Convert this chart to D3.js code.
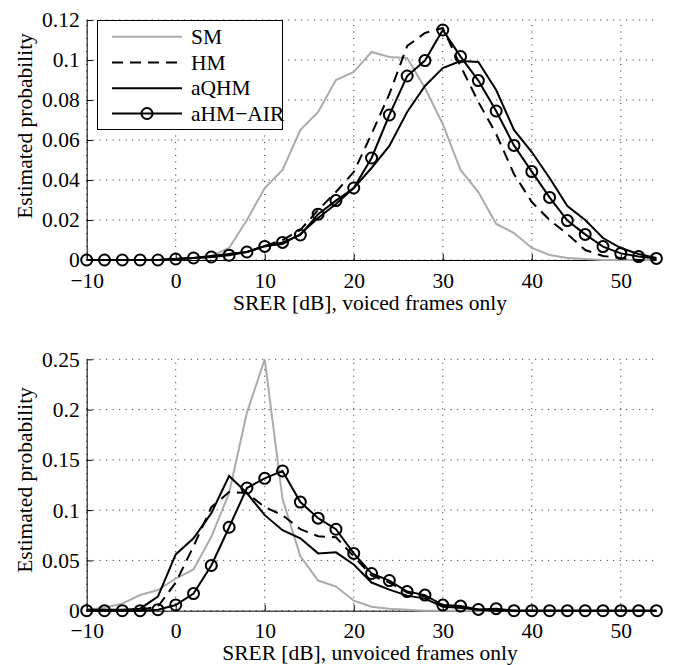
<!DOCTYPE html>
<html>
<head>
<meta charset="utf-8">
<script src="https://cdn.jsdelivr.net/npm/d3@7"></script>
<style>
  body { margin: 0; background: #fff; }
  svg text { font-family: "Liberation Serif", "Times New Roman", serif; fill: #000; }
</style>
</head>
<body>
<div id="chart"></div>
<script>
// SRER bins (dB)
const srer = [-10, -8, -6, -4, -2, 0, 2, 4, 6, 8, 10, 12, 14, 16, 18, 20, 22, 24, 26, 28, 30, 32, 34, 36, 38, 40, 42, 44, 46, 48, 50, 52, 54];

const seriesNames = ["SM", "HM", "aQHM", "aHM\u2212AIR"];

// voiced frames
const voicedSM = [0, 0, 0, 0, 0, 0.0005, 0.001, 0.002, 0.006, 0.020, 0.036, 0.045, 0.065, 0.074, 0.090, 0.094, 0.104, 0.1015, 0.101, 0.086, 0.068, 0.045, 0.034, 0.018, 0.0135, 0.006, 0.0025, 0.001, 0.0005, 0, 0, 0, 0];
const voicedHM = [0, 0, 0, 0, 0, 0.0005, 0.001, 0.0015, 0.003, 0.004, 0.007, 0.010, 0.015, 0.025, 0.034, 0.044, 0.063, 0.083, 0.107, 0.1135, 0.116, 0.097, 0.079, 0.063, 0.043, 0.029, 0.020, 0.013, 0.005, 0.002, 0.001, 0, 0];
const voicedAQHM = [0, 0, 0, 0, 0, 0.0005, 0.001, 0.002, 0.003, 0.004, 0.007, 0.008, 0.013, 0.021, 0.028, 0.036, 0.046, 0.057, 0.074, 0.087, 0.096, 0.0995, 0.099, 0.085, 0.065, 0.054, 0.041, 0.027, 0.020, 0.011, 0.006, 0.003, 0.001];
const voicedAIR = [0, 0, 0, 0, 0, 0.0005, 0.001, 0.0015, 0.0024, 0.004, 0.0068, 0.0088, 0.0125, 0.0229, 0.0297, 0.036, 0.051, 0.0725, 0.092, 0.0997, 0.115, 0.1017, 0.0897, 0.0745, 0.0573, 0.0442, 0.0313, 0.0197, 0.0128, 0.0067, 0.0033, 0.0017, 0.0008];

// unvoiced frames
const unvoicedSM = [0.001, 0.003, 0.007, 0.0156, 0.0205, 0.032, 0.041, 0.0735, 0.117, 0.197, 0.25, 0.111, 0.054, 0.030, 0.024, 0.010, 0.004, 0.002, 0.001, 0, 0, 0, 0, 0, 0, 0, 0, 0, 0, 0, 0, 0, 0];
const unvoicedHM = [0, 0, 0, 0.001, 0.004, 0.028, 0.064, 0.103, 0.118, 0.117, 0.103, 0.095, 0.081, 0.074, 0.073, 0.054, 0.035, 0.028, 0.018, 0.014, 0.005, 0.003, 0.001, 0, 0, 0, 0, 0, 0, 0, 0, 0, 0];
const unvoicedAQHM = [0.001, 0.001, 0.001, 0.002, 0.014, 0.056, 0.072, 0.097, 0.134, 0.117, 0.095, 0.080, 0.072, 0.057, 0.058, 0.046, 0.028, 0.021, 0.015, 0.012, 0.004, 0.003, 0.001, 0, 0, 0, 0, 0, 0, 0, 0, 0, 0];
const unvoicedAIR = [0, 0, 0, 0, 0.001, 0.0057, 0.017, 0.045, 0.083, 0.122, 0.1316, 0.139, 0.108, 0.092, 0.081, 0.057, 0.037, 0.030, 0.019, 0.0155, 0.0056, 0.0046, 0.0013, 0.002, 0, 0, 0, 0, 0, 0, 0, 0, 0];

// ticks
const xTicks = [-10, 0, 10, 20, 30, 40, 50];
const xTickLabels = ["\u221210", "0", "10", "20", "30", "40", "50"];
const voicedYTicks = [0, 0.02, 0.04, 0.06, 0.08, 0.1, 0.12];
const voicedYLabels = ["0", "0.02", "0.04", "0.06", "0.08", "0.1", "0.12"];
const unvoicedYTicks = [0, 0.05, 0.1, 0.15, 0.2, 0.25];
const unvoicedYLabels = ["0", "0.05", "0.1", "0.15", "0.2", "0.25"];

const W = 683, H = 665;
const FS = "21.5px";
const svg = d3.select("#chart").append("svg")
    .attr("width", W)
    .attr("height", H);

const xScale = d3.scaleLinear().domain([-10, 54]).range([86.7, 656.4]);

function panel(cfg) {
    const y = d3.scaleLinear().domain([0, cfg.ymax]).range([cfg.bottom, cfg.top]);
    const g = svg.append("g");

    // dotted grid
    g.append("g").selectAll("line.hg")
        .data(cfg.yTicks)
        .enter().append("line")
        .attr("x1", xScale.range()[0]).attr("x2", xScale.range()[1])
        .attr("y1", d => y(d)).attr("y2", d => y(d))
        .style("stroke", "#222").style("stroke-width", 1)
        .style("stroke-dasharray", "1,5.5");
    g.append("g").selectAll("line.vg")
        .data(xTicks)
        .enter().append("line")
        .attr("x1", d => xScale(d)).attr("x2", d => xScale(d))
        .attr("y1", cfg.bottom).attr("y2", cfg.top)
        .style("stroke", "#222").style("stroke-width", 1)
        .style("stroke-dasharray", "1,5.5");

    // axes, ticks pointing inward
    const xa = g.append("g")
        .attr("transform", `translate(0,${cfg.bottom})`)
        .call(d3.axisBottom(xScale).tickValues(xTicks)
            .tickFormat((d, i) => xTickLabels[i])
            .tickSizeInner(-6).tickSizeOuter(0).tickPadding(12.5));
    const ya = g.append("g")
        .attr("transform", `translate(${xScale.range()[0]},0)`)
        .call(d3.axisLeft(y).tickValues(cfg.yTicks)
            .tickFormat((d, i) => cfg.yLabels[i])
            .tickSizeInner(-6).tickSizeOuter(0).tickPadding(7));
    [xa, ya].forEach(a => {
        a.selectAll("text").style("font-size", FS).style("font-family", "Liberation Serif, serif");
        a.selectAll("line, path").style("stroke", "#000");
    });

    // axis labels
    g.append("text")
        .attr("x", 370).attr("y", cfg.xLabelY)
        .attr("text-anchor", "middle")
        .style("font-size", FS)
        .text(cfg.xLabel);
    g.append("text")
        .attr("transform", `translate(31.5,${cfg.yLabelC}) rotate(-90)`)
        .attr("text-anchor", "middle")
        .style("font-size", FS)
        .text("Estimated probability");

    const line = d3.line()
        .x((d, i) => xScale(srer[i]))
        .y(d => y(d));

    // SM (gray), HM (dashed), aQHM (solid), aHM-AIR (solid + circles)
    g.append("path").datum(cfg.sm).attr("d", line)
        .style("fill", "none").style("stroke", "#ababab").style("stroke-width", 2);
    g.append("path").datum(cfg.hm).attr("d", line)
        .style("fill", "none").style("stroke", "#000").style("stroke-width", 2)
        .style("stroke-dasharray", "11,7");
    g.append("path").datum(cfg.aqhm).attr("d", line)
        .style("fill", "none").style("stroke", "#000").style("stroke-width", 2);
    g.append("path").datum(cfg.air).attr("d", line)
        .style("fill", "none").style("stroke", "#000").style("stroke-width", 2);
    g.selectAll(".dot")
        .data(cfg.air)
        .enter().append("circle")
        .attr("class", "dot")
        .attr("cx", (d, i) => xScale(srer[i]))
        .attr("cy", d => y(d))
        .attr("r", 5.5)
        .style("fill", "none").style("stroke", "#000").style("stroke-width", 2);
    return g;
}

const voicedPanel = panel({
    ymax: 0.12, top: 20, bottom: 260,
    yTicks: voicedYTicks, yLabels: voicedYLabels,
    sm: voicedSM, hm: voicedHM, aqhm: voicedAQHM, air: voicedAIR,
    xLabel: "SRER [dB], voiced frames only", xLabelY: 309.5, yLabelC: 126
});

panel({
    ymax: 0.25, top: 359.3, bottom: 610.7,
    yTicks: unvoicedYTicks, yLabels: unvoicedYLabels,
    sm: unvoicedSM, hm: unvoicedHM, aqhm: unvoicedAQHM, air: unvoicedAIR,
    xLabel: "SRER [dB], unvoiced frames only", xLabelY: 659.5, yLabelC: 480
});

// legend (top panel only)
const legend = voicedPanel.append("g");
legend.append("rect")
    .attr("x", 97.5).attr("y", 20.5)
    .attr("width", 185).attr("height", 109)
    .style("fill", "#fff").style("stroke", "#000").style("stroke-width", 1);

const legendStyles = [
    { stroke: "#ababab", dash: null, marker: false },
    { stroke: "#000", dash: "11,7", marker: false },
    { stroke: "#000", dash: null, marker: false },
    { stroke: "#000", dash: null, marker: true }
];
const legendRowY = [36.7, 62.5, 88.3, 113.5];

seriesNames.forEach((name, i) => {
    const s = legendStyles[i], yy = legendRowY[i];
    legend.append("line")
        .attr("x1", 112).attr("x2", 182).attr("y1", yy).attr("y2", yy)
        .style("stroke", s.stroke).style("stroke-width", 2)
        .style("stroke-dasharray", s.dash);
    if (s.marker) {
        legend.append("circle")
            .attr("cx", 147).attr("cy", yy).attr("r", 5.5)
            .style("fill", "none").style("stroke", "#000").style("stroke-width", 2);
    }
    legend.append("text")
        .attr("x", 191).attr("y", yy + 7)
        .style("font-size", FS)
        .text(name);
});
</script>
</body>
</html>
